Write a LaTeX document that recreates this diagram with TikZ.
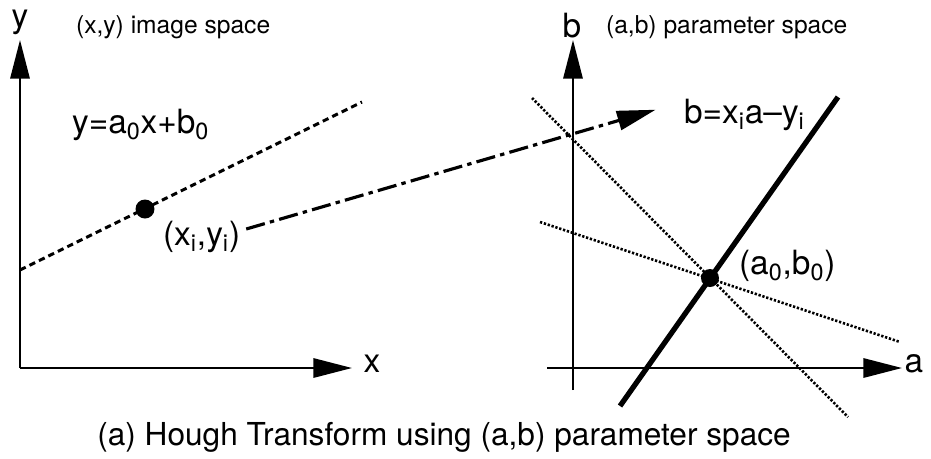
\documentclass[tikz,border=0pt]{standalone}
\usepackage{fontspec}
\setmainfont{TeX Gyre Heros}
\usetikzlibrary{arrows.meta}

\begin{document}
\begin{tikzpicture}[x=0.02cm, y=-0.02cm,
    every node/.style={inner sep=1pt, font=\fontsize{19}{21}\selectfont},
    small/.style={font=\fontsize{14}{16}\selectfont},
    axis/.style={line width=1.2pt, -{Triangle[length=22pt,width=11pt]}},
    dot/.style={circle, fill, inner sep=0pt, minimum size=0.38cm},
    xyline/.style={line width=1.7pt, dash pattern=on 3.6pt off 2.4pt},
    abline/.style={line width=1.5pt, dash pattern=on 1.3pt off 1pt},
    mapline/.style={line width=1.8pt, dash pattern=on 11pt off 3pt on 2.5pt off 3pt, -{Triangle[length=22pt,width=11pt]}}]
    \useasboundingbox (0,0) rectangle (931,458);
    % image space
    \coordinate (o1) at (20,368);
    \node (ylab) at (20,22) {y};
    \node (xlab) at (372,364) {x};
    \node[small, anchor=west] (t1) at (74,27) {(x,y) image space};
    \draw[axis] (o1) -- (20,40);
    \draw[axis] (o1) -- (352,368);
    \draw[xyline] (20,270) -- (362,102);
    \node[dot] (pi) at (145,209) {};
    \node[anchor=west] (eq1) at (70,125) {y=a\textsubscript{0}x+b\textsubscript{0}};
    \node[anchor=west] (xi) at (161,237) {(x\textsubscript{i},y\textsubscript{i})};
    % parameter space
    \coordinate (o2) at (573,368);
    \node (blab) at (572,26) {b};
    \node (alab) at (914,364) {a};
    \node[small, anchor=west] (t2) at (604,27) {(a,b) parameter space};
    \draw[axis] (573,390) -- (573,40);
    \draw[axis] (547,368) -- (902,368);
    \draw[abline] (532,98) -- (848,417);
    \draw[abline] (540,222) -- (900,342);
    \draw[line width=3pt] (620,406) -- (838,97);
    \node[dot, minimum size=0.36cm] (p0) at (710,278) {};
    \node[anchor=west] (ab0) at (737,266) {(a\textsubscript{0},b\textsubscript{0})};
    \node[anchor=west] (eq2) at (682,115) {b=x\textsubscript{i}a--y\textsubscript{i}};
    \draw[mapline] (xi.east) ++(4,-8) -- ([xshift=-15pt, yshift=3pt]eq2.west);
    % caption
    \node[font=\fontsize{18}{20}\selectfont] (cap) at (444,437) {(a) Hough Transform using (a,b) parameter space};
\end{tikzpicture}
\end{document}
